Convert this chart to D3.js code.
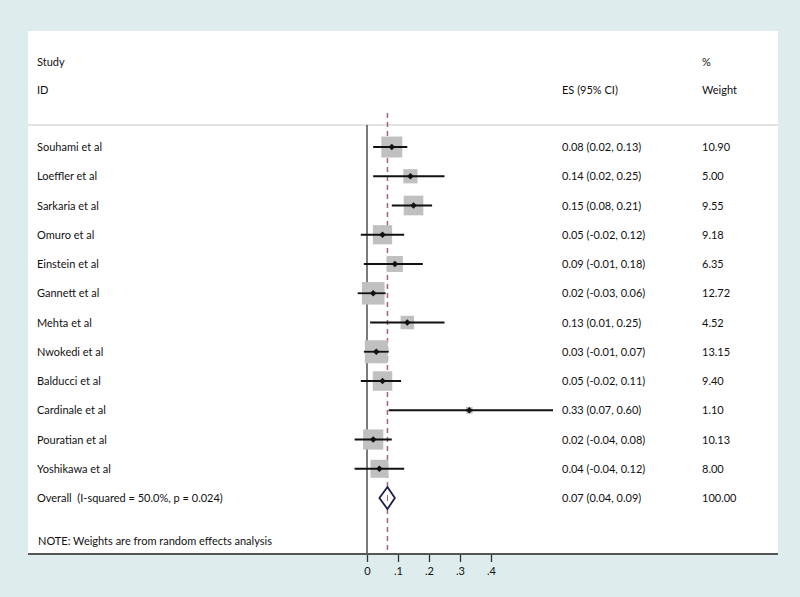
<!DOCTYPE html>
<html>
<head>
<meta charset="utf-8">
<script src="https://cdn.jsdelivr.net/npm/d3@7"></script>
<style>
  html, body { margin: 0; padding: 0; background: #deecee; }
  svg { display: block; }
  text { font-family: Lato, "Open Sans", sans-serif; font-size: 11px; fill: #111; white-space: pre; }
</style>
</head>
<body>
<svg id="chart" width="800" height="597"></svg>
<script>
// ---- data ----
const studies = ["Souhami et al", "Loeffler et al", "Sarkaria et al", "Omuro et al", "Einstein et al",
  "Gannett et al", "Mehta et al", "Nwokedi et al", "Balducci et al", "Cardinale et al",
  "Pouratian et al", "Yoshikawa et al"];
const es     = [0.08, 0.14, 0.15, 0.05, 0.09, 0.02, 0.13, 0.03, 0.05, 0.33, 0.02, 0.04];
const lower  = [0.02, 0.02, 0.08, -0.02, -0.01, -0.03, 0.01, -0.01, -0.02, 0.07, -0.04, -0.04];
const upper  = [0.13, 0.25, 0.21, 0.12, 0.18, 0.06, 0.25, 0.07, 0.11, 0.60, 0.08, 0.12];
const weight = [10.90, 5.00, 9.55, 9.18, 6.35, 12.72, 4.52, 13.15, 9.40, 1.10, 10.13, 8.00];
const overallLabel = "Overall  (I-squared = 50.0%, p = 0.024)";
const overall = { es: 0.066, lo: 0.04, hi: 0.09, weight: 100.00 };
const xTicks = [0, 0.1, 0.2, 0.3, 0.4];
const note = "NOTE: Weights are from random effects analysis";

// ---- layout ----
const svg = d3.select("#chart");
const panel = { x0: 28, x1: 778, y0: 31, y1: 554 };
const plotTop = 125;

svg.append("rect").attr("x", panel.x0).attr("y", panel.y0)
  .attr("width", panel.x1 - panel.x0).attr("height", panel.y1 - panel.y0)
  .attr("fill", "#ffffff");

const x = d3.scaleLinear().domain([0, 0.4]).range([367, 491]);
const rows = d3.range(studies.length + 1);
const y = d3.scalePoint().domain(rows).range([147, 498]);

// top border of plot region
svg.append("line").attr("x1", panel.x0).attr("x2", panel.x1)
  .attr("y1", plotTop).attr("y2", plotTop)
  .attr("stroke", "#c9c9c9").attr("stroke-width", 1);

// headers
const colStudy = 37, colES = 562, colW = 702;
const hdr = svg.append("g");
hdr.append("text").attr("x", colStudy).attr("y", 66).text("Study");
hdr.append("text").attr("x", colStudy).attr("y", 94).text("ID");
hdr.append("text").attr("x", colES).attr("y", 94).text("ES (95% CI)");
hdr.append("text").attr("x", colW).attr("y", 66).text("%");
hdr.append("text").attr("x", colW).attr("y", 94).text("Weight");

// zero line
svg.append("line").attr("x1", x(0)).attr("x2", x(0))
  .attr("y1", plotTop).attr("y2", panel.y1)
  .attr("stroke", "#333").attr("stroke-width", 1.3);

// overall dashed line
svg.append("line").attr("x1", x(overall.es)).attr("x2", x(overall.es))
  .attr("y1", 113).attr("y2", panel.y1)
  .attr("stroke", "#a8607a").attr("stroke-width", 1.5)
  .attr("stroke-dasharray", "5,4");

const data = studies.map((s, i) => ({ s, es: es[i], lo: lower[i], hi: upper[i], w: weight[i], i }));

// boxes
svg.append("g").selectAll("rect").data(data).join("rect")
  .attr("x", d => x(d.es) - 3.17 * Math.sqrt(d.w))
  .attr("y", d => y(d.i) - 3.17 * Math.sqrt(d.w))
  .attr("width", d => 6.35 * Math.sqrt(d.w))
  .attr("height", d => 6.35 * Math.sqrt(d.w))
  .attr("fill", "#c0c0c0");

// CI lines
svg.append("g").selectAll("line").data(data).join("line")
  .attr("x1", d => x(d.lo)).attr("x2", d => x(d.hi))
  .attr("y1", d => y(d.i)).attr("y2", d => y(d.i))
  .attr("stroke", "#111").attr("stroke-width", 1.8);

// point markers
svg.append("g").selectAll("path").data(data).join("path")
  .attr("transform", d => `translate(${x(d.es)},${y(d.i)}) rotate(45)`)
  .attr("d", d3.symbol(d3.symbolSquare, 22))
  .attr("fill", "#111");

// text columns
const fmt = v => v.toFixed(2);
const labels = svg.append("g");
data.forEach(d => {
  labels.append("text").attr("x", colStudy).attr("y", y(d.i) + 4).text(d.s);
  labels.append("text").attr("x", colES).attr("y", y(d.i) + 4)
    .text(`${fmt(d.es)} (${fmt(d.lo)}, ${fmt(d.hi)})`);
  labels.append("text").attr("x", colW).attr("y", y(d.i) + 4).text(fmt(d.w));
});

// overall
const oy = y(studies.length);
svg.append("path")
  .attr("d", `M${x(overall.lo)},${oy} L${x(overall.es)},${oy - 11} L${x(overall.hi)},${oy} L${x(overall.es)},${oy + 11} Z`)
  .attr("fill", "#fff").attr("stroke", "#1c1c4a").attr("stroke-width", 1.8);
svg.append("line").attr("x1", x(overall.es)).attr("x2", x(overall.es))
  .attr("y1", oy - 3).attr("y2", oy + 3)
  .attr("stroke", "#a8607a").attr("stroke-width", 1);
labels.append("text").attr("x", colStudy).attr("y", oy + 4).text(overallLabel);
labels.append("text").attr("x", colES).attr("y", oy + 4)
  .text(`${fmt(overall.es)} (${fmt(overall.lo)}, ${fmt(overall.hi)})`);
labels.append("text").attr("x", colW).attr("y", oy + 4).text(fmt(overall.weight));

labels.append("text").attr("x", 38).attr("y", 545).text(note);

// axis
const axis = d3.axisBottom(x).tickValues(xTicks).tickSize(8).tickPadding(5)
  .tickFormat(v => v === 0 ? "0" : d3.format(".1f")(v).replace(/^0/, ""));
const ag = svg.append("g").attr("transform", `translate(0,${panel.y1})`).call(axis);
ag.select(".domain").remove();
ag.selectAll(".tick line").attr("stroke", "#333").attr("stroke-width", 1.3);
ag.selectAll(".tick text").attr("font-family", "Lato, sans-serif").attr("font-size", "11px").attr("fill", "#111");
svg.append("line").attr("x1", panel.x0).attr("x2", panel.x1)
  .attr("y1", panel.y1).attr("y2", panel.y1)
  .attr("stroke", "#555").attr("stroke-width", 2);
</script>
</body>
</html>
